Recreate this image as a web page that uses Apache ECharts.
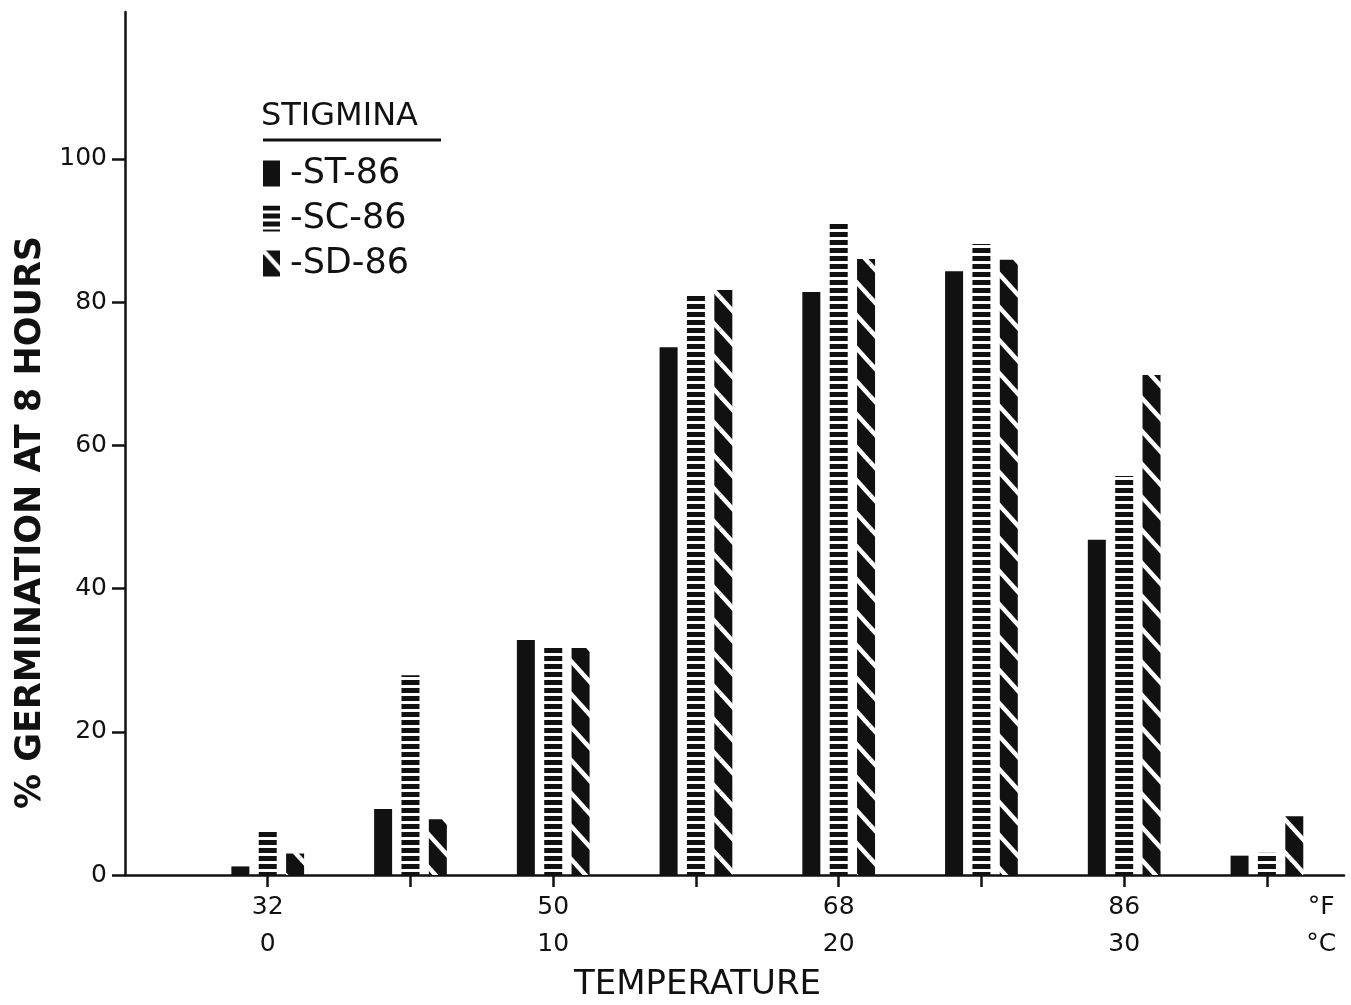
<!DOCTYPE html>
<html>
<head>
<meta charset="utf-8">
<script src="https://cdn.jsdelivr.net/npm/echarts@6/dist/echarts.min.js"></script>
<style>
    * {margin: 0; padding: 0;}
    html, body {background: #fff;}
    #main {width: 1351px; height: 1005px;}
</style>
</head>
<body>
<div id="main"></div>
<script>
// temperature groups (°C) and germination % per isolate
const tempsC = [0, 5, 10, 15, 20, 25, 30, 35];
const stValues = [1.2, 9.2, 32.8, 73.7, 81.4, 84.3, 46.8, 2.7];
const scValues = [6.1, 27.9, 31.8, 81.1, 91.2, 88.1, 55.7, 3.1];
const sdValues = [3.0, 7.8, 31.7, 81.7, 86.0, 85.9, 69.8, 8.2];

// x tick labels: fahrenheit on top line, celsius below
const xLabelValues = [0, 10, 20, 30, 36.9];
const fLabels = ['32', '50', '68', '86', '°F'];
const cLabels = ['0', '10', '20', '30', '°C'];
const xTickValues = [0, 5, 10, 15, 20, 25, 30, 35];
const yTickValues = [0, 20, 40, 60, 80, 100];

const FONT = 'DejaVu Sans';

// horizontal stripes
function stripePattern() {
    const c = document.createElement('canvas');
    c.width = 8;
    c.height = 8;
    const ctx = c.getContext('2d');
    ctx.fillStyle = '#fff';
    ctx.fillRect(0, 0, 8, 8);
    ctx.fillStyle = '#111';
    ctx.fillRect(0, 0, 8, 5);
    return {image: c, repeat: 'repeat'};
}

// black with white "\" diagonals
function diagPattern() {
    const w = 30;
    const h = 33;
    const c = document.createElement('canvas');
    c.width = w;
    c.height = h;
    const ctx = c.getContext('2d');
    ctx.fillStyle = '#111';
    ctx.fillRect(0, 0, w, h);
    ctx.strokeStyle = '#fff';
    ctx.lineWidth = 4.5;
    for (let dx = -w; dx <= w; dx += w) {
        for (let dy = -h; dy <= h; dy += h) {
            ctx.beginPath();
            ctx.moveTo(dx, dy);
            ctx.lineTo(dx + w, dy + h);
            ctx.stroke();
        }
    }
    return {image: c, repeat: 'repeat'};
}

function toPairs(values) {
    return tempsC.map((t, i) => [t, values[i]]);
}

const chart = echarts.init(document.getElementById('main'), null, {renderer: 'canvas'});

const option = {
    backgroundColor: '#fff',
    animation: false,
    textStyle: {fontFamily: FONT, color: '#111'},
    title: {
        text: 'STIGMINA',
        left: 261,
        top: 101,
        padding: 0,
        textStyle: {fontFamily: FONT, fontSize: 32, fontWeight: 'normal', color: '#111'}
    },
    graphic: [{
        type: 'line',
        shape: {x1: 263, y1: 140, x2: 441, y2: 140},
        style: {stroke: '#111', lineWidth: 3}
    }],
    legend: {
        orient: 'vertical',
        left: 263,
        top: 156,
        padding: 0,
        icon: 'rect',
        itemWidth: 17,
        itemHeight: 26,
        itemGap: 10,
        selectedMode: false,
        formatter: name => '-' + name,
        textStyle: {fontFamily: FONT, fontSize: 35, color: '#111', lineHeight: 34, padding: [0, 0, 0, 5]},
        data: ['ST-86', 'SC-86', 'SD-86']
    },
    grid: {left: 125, right: 7, top: 12, bottom: 130, outerBoundsMode: 'none', containLabel: false},
    xAxis: {
        type: 'value',
        min: -5,
        max: 37.7,
        interval: 5,
        name: 'TEMPERATURE',
        nameLocation: 'middle',
        nameGap: 92,
        nameTextStyle: {fontFamily: FONT, fontSize: 34, color: '#111', padding: [0, 74, 0, 0]},
        axisLine: {lineStyle: {color: '#111', width: 2.5}},
        axisTick: {customValues: xTickValues, length: 12, lineStyle: {color: '#111', width: 2.5}},
        axisLabel: {
            customValues: xLabelValues,
            margin: 14,
            fontFamily: FONT,
            fontSize: 25,
            lineHeight: 37,
            color: '#111',
            formatter: v => {
                const i = xLabelValues.indexOf(v);
                return i < 0 ? '' : fLabels[i] + '\n' + cLabels[i];
            }
        },
        splitLine: {show: false}
    },
    yAxis: {
        type: 'value',
        min: 0,
        max: 120.5,
        interval: 20,
        name: '% GERMINATION AT 8 HOURS',
        nameLocation: 'middle',
        nameGap: 77,
        nameTextStyle: {fontFamily: FONT, fontSize: 35, fontWeight: 'bold', color: '#111', padding: [0, 158, 0, 0]},
        axisLine: {onZero: false, lineStyle: {color: '#111', width: 2.5}},
        axisTick: {customValues: yTickValues, length: 13, lineStyle: {color: '#111', width: 2.5}},
        axisLabel: {customValues: yTickValues, margin: 18, fontFamily: FONT, fontSize: 25, color: '#111'},
        splitLine: {show: false}
    },
    series: [
        {
            name: 'ST-86',
            type: 'bar',
            barWidth: 18,
            barGap: '52%',
            itemStyle: {color: '#111'},
            data: toPairs(stValues)
        },
        {
            name: 'SC-86',
            type: 'bar',
            barWidth: 18,
            barGap: '52%',
            itemStyle: {color: stripePattern()},
            data: toPairs(scValues)
        },
        {
            name: 'SD-86',
            type: 'bar',
            barWidth: 18,
            barGap: '52%',
            itemStyle: {color: diagPattern()},
            data: toPairs(sdValues)
        }
    ]
};

chart.setOption(option);
</script>
</body>
</html>
